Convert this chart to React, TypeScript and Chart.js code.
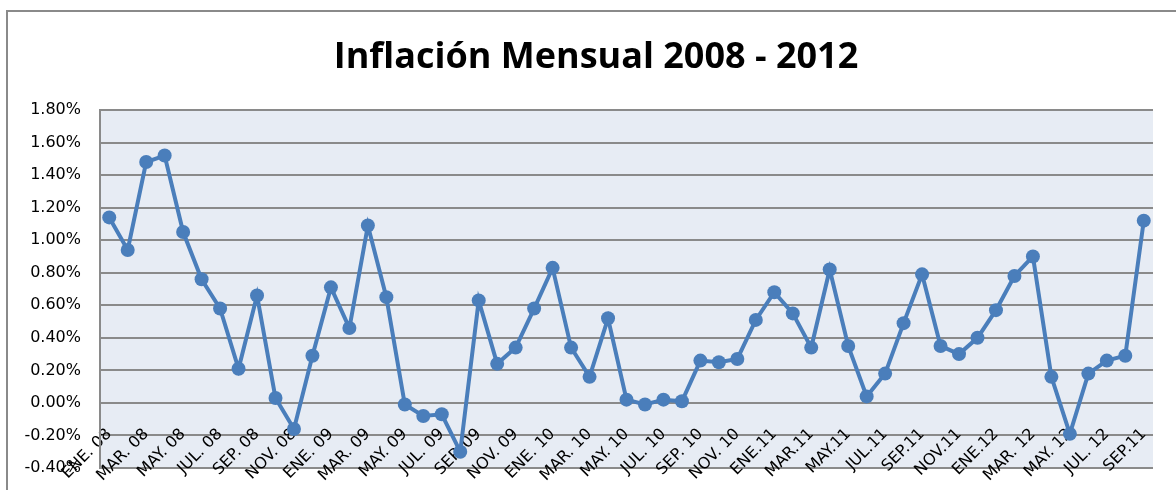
import React, { useEffect, useRef } from "react";
import { Chart, registerables } from "chart.js";

Chart.register(...registerables);

const TITLE = "Inflación Mensual 2008 - 2012";

// 57 months, ENE 2008 .. SEP 2012
const categories = [
  "ENE. 08", "FEB. 08", "MAR. 08", "ABR. 08", "MAY. 08", "JUN. 08", "JUL. 08", "AGO. 08", "SEP. 08", "OCT. 08", "NOV. 08", "DIC. 08",
  "ENE. 09", "FEB. 09", "MAR. 09", "ABR. 09", "MAY. 09", "JUN. 09", "JUL. 09", "AGO. 09", "SEP. 09", "OCT. 09", "NOV. 09", "DIC. 09",
  "ENE. 10", "FEB. 10", "MAR. 10", "ABR. 10", "MAY. 10", "JUN. 10", "JUL. 10", "AGO. 10", "SEP. 10", "OCT. 10", "NOV. 10", "DIC. 10",
  "ENE.11", "FEB.11", "MAR.11", "ABR.11", "MAY.11", "JUN.11", "JUL.11", "AGO.11", "SEP.11", "OCT.11", "NOV.11", "DIC.11",
  "ENE.12", "FEB. 12", "MAR. 12", "ABR. 12", "MAY. 12", "JUN. 12", "JUL. 12", "AGO. 12", "SEP. 12",
];

// Labels shown on the axis (every other month, as in the original)
const tickLabels = [
  "ENE. 08", "MAR. 08", "MAY. 08", "JUL. 08", "SEP. 08", "NOV. 08",
  "ENE. 09", "MAR. 09", "MAY. 09", "JUL. 09", "SEP. 09", "NOV. 09",
  "ENE. 10", "MAR. 10", "MAY. 10", "JUL. 10", "SEP. 10", "NOV. 10",
  "ENE.11", "MAR.11", "MAY.11", "JUL.11", "SEP.11", "NOV.11",
  "ENE.12", "MAR. 12", "MAY. 12", "JUL. 12", "SEP.11",
];

// Monthly inflation (%)
const inflation = [
  1.14, 0.94, 1.48, 1.52, 1.05, 0.76, 0.58, 0.21, 0.66, 0.03, -0.16, 0.29,
  0.71, 0.46, 1.09, 0.65, -0.01, -0.08, -0.07, -0.30, 0.63, 0.24, 0.34, 0.58,
  0.83, 0.34, 0.16, 0.52, 0.02, -0.01, 0.02, 0.01, 0.26, 0.25, 0.27, 0.51,
  0.68, 0.55, 0.34, 0.82, 0.35, 0.04, 0.18, 0.49, 0.79, 0.35, 0.30, 0.40,
  0.57, 0.78, 0.90, 0.16, -0.19, 0.18, 0.26, 0.29, 1.12,
];

const Y_MIN = -0.4;
const Y_MAX = 1.8;
const Y_STEP = 0.2;

const LINE_COLOR = "#4A7EBB";
const GRID_COLOR = "#8A8A8A";
const PLOT_BG = "#E7ECF4";
const TITLE_FONT = "'Open Sans', 'DejaVu Sans', sans-serif";
const TICK_FONT = "'DejaVu Sans', 'Open Sans', sans-serif";

const decorPlugin = {
  id: "decor",
  beforeDraw(chart: any) {
    const { ctx, chartArea } = chart;
    ctx.save();
    ctx.fillStyle = PLOT_BG;
    ctx.fillRect(chartArea.left, chartArea.top, chartArea.right - chartArea.left, chartArea.bottom - chartArea.top);
    // outer frame of the chart object
    ctx.strokeStyle = "#8A8A8A";
    ctx.lineWidth = 2;
    ctx.beginPath();
    ctx.moveTo(7, chart.height + 5);
    ctx.lineTo(7, 11);
    ctx.lineTo(chart.width + 5, 11);
    ctx.stroke();
    // title
    ctx.fillStyle = "#000";
    ctx.font = `bold 36px ${TITLE_FONT}`;
    ctx.textAlign = "center";
    ctx.textBaseline = "alphabetic";
    ctx.fillText(TITLE, 596, 68);
    ctx.restore();
  },
};

export default function App() {
  const ref = useRef<HTMLCanvasElement | null>(null);
  useEffect(() => {
    if (!ref.current) return;
    const chart = new Chart(ref.current, {
      type: "line",
      data: {
        labels: categories,
        datasets: [
          {
            data: inflation,
            borderColor: LINE_COLOR,
            backgroundColor: LINE_COLOR,
            borderWidth: 4,
            pointRadius: 7,
            pointBackgroundColor: LINE_COLOR,
            pointBorderWidth: 0,
            tension: 0,
          },
        ],
      },
      options: {
        animation: false,
        responsive: false,
        layout: { padding: { left: 8, right: 23, top: 110, bottom: 22 } },
        plugins: { legend: { display: false }, title: { display: false }, tooltip: { enabled: false } },
        scales: {
          x: {
            type: "category",
            position: { y: 0 } as any,
            offset: true,
            afterFit: (s: any) => {
              s.height = 0;
              s.paddingLeft = 0;
              s.paddingRight = 0;
              s.paddingTop = 0;
              s.paddingBottom = 0;
            },
            grid: { display: false, drawTicks: false },
            border: { display: false },
            ticks: {
              autoSkip: false,
              minRotation: 45,
              maxRotation: 45,
              padding: 22,
              color: "#000",
              font: { family: TICK_FONT, size: 16 },
              callback: (_v: any, i: number) => (i % 2 === 0 ? tickLabels[i / 2] : ""),
            },
          },
          y: {
            min: Y_MIN,
            max: Y_MAX,
            afterFit: (s: any) => {
              s.width = 92;
              s.paddingTop = 0;
              s.paddingBottom = 0;
            },
            grid: { color: GRID_COLOR, lineWidth: 2, drawTicks: false },
            border: { display: true, color: GRID_COLOR, width: 2 },
            ticks: {
              stepSize: Y_STEP,
              padding: 19,
              color: "#000",
              font: { family: TICK_FONT, size: 16 },
              callback: (v: any) => Number(v).toFixed(2) + "%",
            },
          },
        },
      },
      plugins: [decorPlugin],
    });
    return () => chart.destroy();
  }, []);
  return (
    <div style={{ position: "fixed", left: 0, top: 0, width: 1176, height: 490, background: "#fff" }}>
      <canvas ref={ref} width={1176} height={490} style={{ display: "block" }} />
    </div>
  );
}
